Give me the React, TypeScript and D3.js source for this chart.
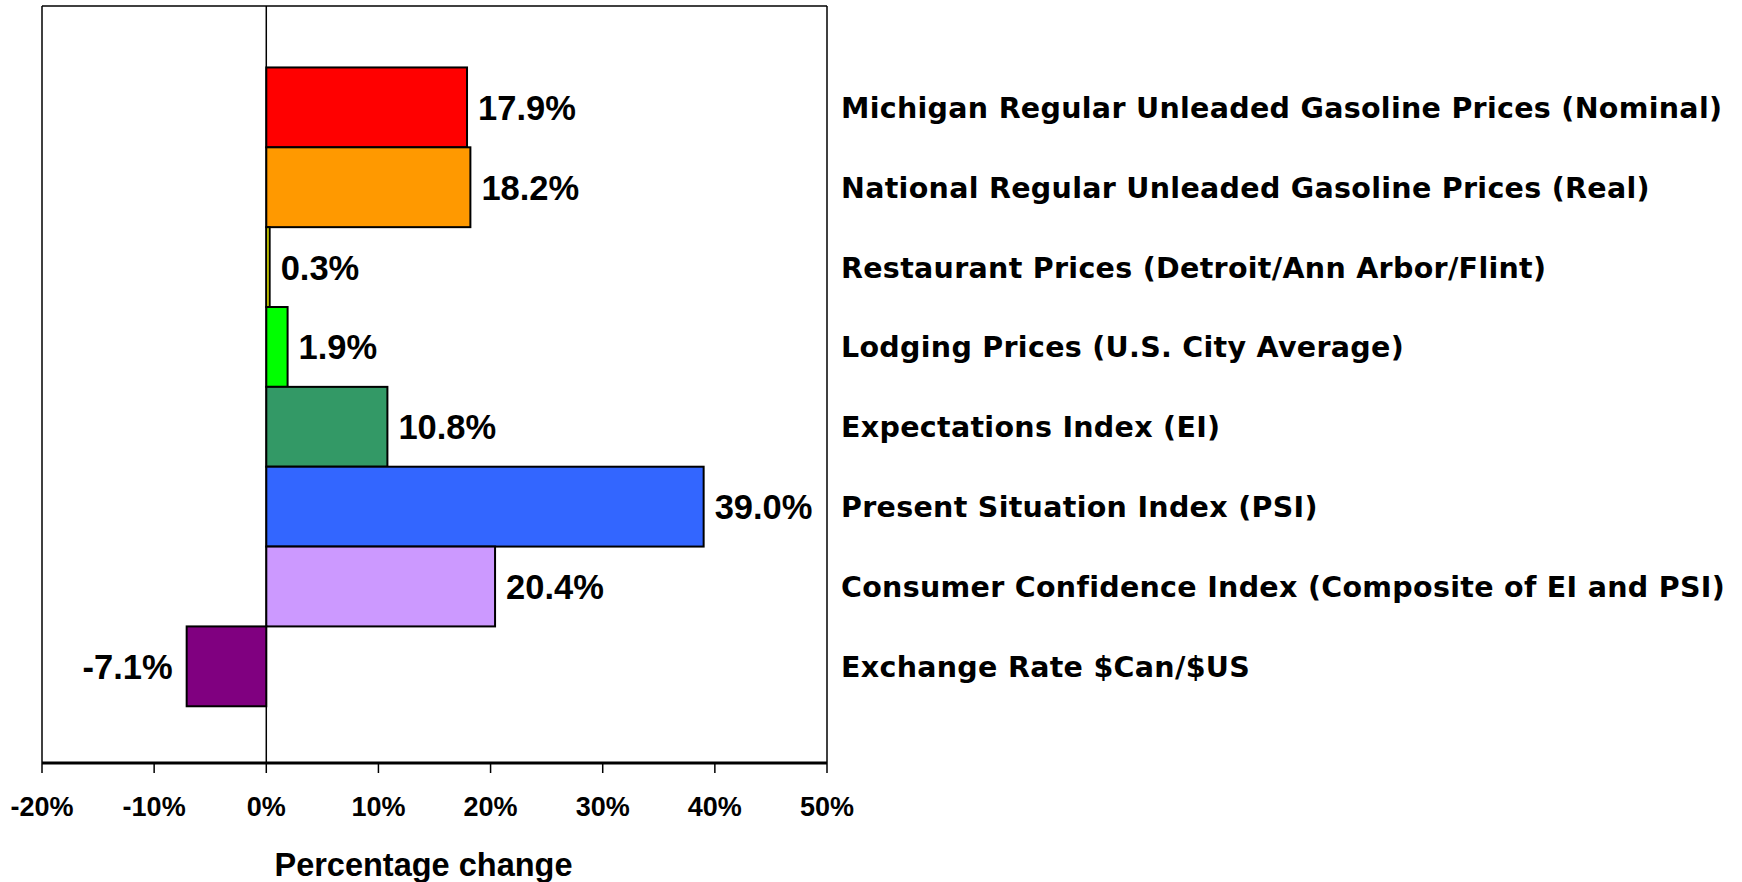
import * as d3 from 'd3';

const categories = [
  'Michigan Regular Unleaded Gasoline Prices (Nominal)',
  'National Regular Unleaded Gasoline Prices (Real)',
  'Restaurant Prices (Detroit/Ann Arbor/Flint)',
  'Lodging Prices (U.S. City Average)',
  'Expectations Index (EI)',
  'Present Situation Index (PSI)',
  'Consumer Confidence Index (Composite of EI and PSI)',
  'Exchange Rate $Can/$US',
];
const values = [17.9, 18.2, 0.3, 1.9, 10.8, 39.0, 20.4, -7.1];
const barColors = ['#FF0000', '#FF9900', '#FFFF00', '#00FF00', '#339966', '#3366FF', '#CC99FF', '#800080'];
const tickValues = [-20, -10, 0, 10, 20, 30, 40, 50];

const W = 1742;
const H = 882;
const left = 42;
const right = 827;
const top = 6;
const bottom = 763;

const App = () => {
  const x = d3.scaleLinear().domain([-20, 50]).range([left, right]);
  const y = d3
    .scaleBand<string>()
    .domain(categories)
    .range([top, bottom])
    .paddingInner(0)
    .paddingOuter(0.74)
    .align(0.52);

  const arial = '"Liberation Sans", Arial, sans-serif';
  const labelFont = '"DejaVu Sans", Verdana, sans-serif';

  return (
    <svg width={W} height={H} style={{ position: 'absolute', left: 0, top: 0, background: '#fff' }}>
      {/* frame */}
      <line x1={left} x2={right} y1={top} y2={top} stroke="#000" strokeWidth={1.5} />
      <line x1={left} x2={left} y1={top} y2={bottom} stroke="#000" strokeWidth={1.5} />
      <line x1={right} x2={right} y1={top} y2={bottom} stroke="#000" strokeWidth={1.5} />
      <line x1={x(0)} x2={x(0)} y1={top} y2={bottom} stroke="#000" strokeWidth={1.5} />

      {/* bars */}
      {categories.map((c, i) => {
        const v = values[i];
        const x0 = x(Math.min(0, v));
        const w = Math.abs(x(v) - x(0));
        return (
          <rect
            key={c}
            x={x0}
            y={y(c)}
            width={w}
            height={y.bandwidth()}
            fill={barColors[i]}
            stroke="#000"
            strokeWidth={2}
          />
        );
      })}

      {/* value labels */}
      {categories.map((c, i) => {
        const v = values[i];
        const cy = (y(c) ?? 0) + y.bandwidth() / 2;
        return (
          <text
            key={c}
            x={v >= 0 ? x(v) + 11 : x(v) - 14}
            y={cy}
            dy="0.36em"
            textAnchor={v >= 0 ? 'start' : 'end'}
            fontFamily={arial}
            fontWeight="bold"
            fontSize={34.5}
            fill="#000"
          >
            {v.toFixed(1)}%
          </text>
        );
      })}

      {/* category labels */}
      {categories.map(c => (
        <text
          key={c}
          x={841}
          y={(y(c) ?? 0) + y.bandwidth() / 2}
          dy="0.37em"
          fontFamily={labelFont}
          fontWeight="bold"
          fontSize={28.5}
          letterSpacing={0.3}
          fill="#000"
        >
          {c}
        </text>
      ))}

      {/* x axis */}
      <line x1={left} x2={right} y1={bottom} y2={bottom} stroke="#000" strokeWidth={3} />
      {tickValues.map(t => (
        <g key={t}>
          <line x1={x(t)} x2={x(t)} y1={bottom} y2={bottom + 10} stroke="#000" strokeWidth={1.5} />
          <text
            x={x(t)}
            y={806}
            dy="0.36em"
            textAnchor="middle"
            fontFamily={arial}
            fontWeight="bold"
            fontSize={27}
            fill="#000"
          >
            {t}%
          </text>
        </g>
      ))}
      <text
        x={(left + right) / 2 - 11}
        y={864}
        dy="0.36em"
        textAnchor="middle"
        fontFamily={arial}
        fontWeight="bold"
        fontSize={32.5}
        fill="#000"
      >
        Percentage change
      </text>
    </svg>
  );
};

export default App;
